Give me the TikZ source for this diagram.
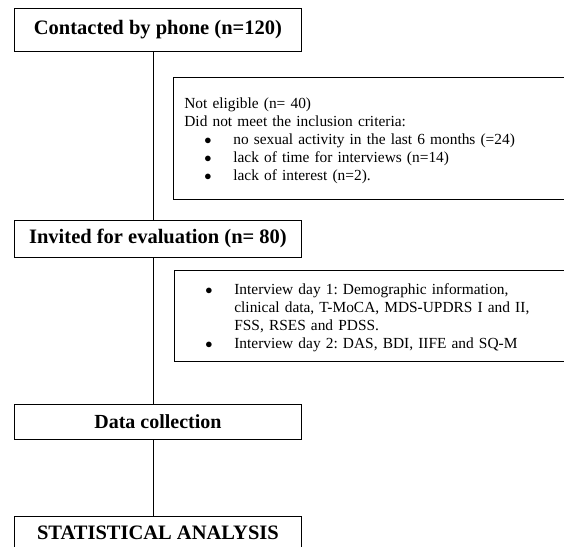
\documentclass[tikz,border=0pt]{standalone}
\usepackage{fontspec}
\setmainfont{Liberation Serif}
\usetikzlibrary{positioning}
\frenchspacing

\begin{document}
\begin{tikzpicture}
  \newcommand\stagewidth{287pt}
  \newcommand\notewidth{369pt}
  \newcommand\spinedx{-4.5pt}
  \newcommand\bulletitem{\hspace*{20pt}\makebox[29pt][l]{$\bullet$}}

  \tikzset{stage/.style={draw, line width=0.9pt, minimum width=\stagewidth, inner sep=0pt, font=\fontsize{20.5}{24}\selectfont\bfseries}}
  \tikzset{note/.style={draw, line width=0.9pt, align=left, inner xsep=11pt, text width=\notewidth, font=\fontsize{15.4}{18}\selectfont}}
  \tikzset{spine/.style={line width=0.9pt}}

  \useasboundingbox (0,0) rectangle (564pt,-546pt);

  % main stages
  \node[stage, minimum height=43pt, anchor=north west] at (14pt,-8pt) (contact) {Contacted by phone (n=120)};
  \node[stage, minimum height=37pt, below=168pt of contact] (invited) {Invited for evaluation (n= 80)};
  \node[stage, minimum height=35pt, below=146pt of invited, font=\fontsize{20}{24}\selectfont\bfseries] (datacoll) {Data collection};
  \node[stage, minimum height=34pt, below=76pt of datacoll] (stats) {STATISTICAL ANALYSIS};

  % side notes
  \node[note, minimum height=122pt, below right=25pt and -129pt of contact] (noteligible) {%
    \rule{0pt}{16pt}Not eligible (n= 40)\\
    Did not meet the inclusion criteria:\\
    \bulletitem no sexual activity in the last 6 months (=24)\\
    \bulletitem lack of time for interviews (n=14)\\
    \bulletitem lack of interest (n=2).};
  \node[note, minimum height=91pt, below right=12pt and -128pt of invited] (interview) {%
    \rule{0pt}{14pt}\bulletitem Interview day 1: Demographic information,\\
    \hspace*{49pt}clinical data, T-MoCA, MDS-UPDRS I and II,\\
    \hspace*{49pt}FSS, RSES and PDSS.\\
    \bulletitem Interview day 2: DAS, BDI, IIFE and SQ-M};

  % spine
  \draw[spine] ([xshift=\spinedx]contact.south) -- ([xshift=\spinedx]invited.north);
  \draw[spine] ([xshift=\spinedx]invited.south) -- ([xshift=\spinedx]datacoll.north);
  \draw[spine] ([xshift=\spinedx]datacoll.south) -- ([xshift=\spinedx]stats.north);
\end{tikzpicture}
\end{document}
